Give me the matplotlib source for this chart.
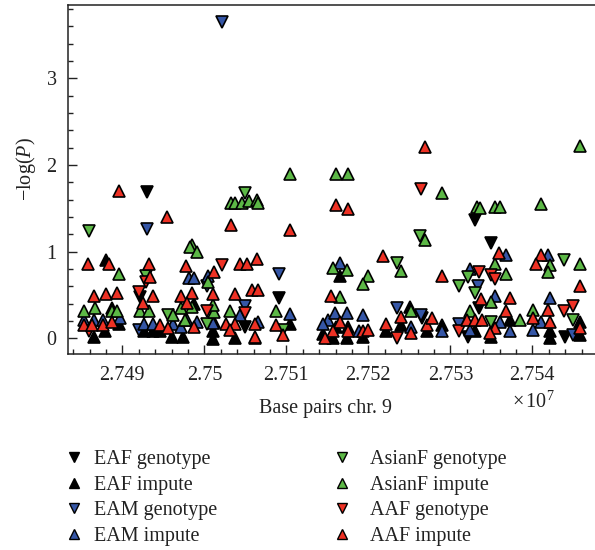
import numpy as np
import matplotlib
matplotlib.use('Agg')
import matplotlib.pyplot as plt
from matplotlib.lines import Line2D
from matplotlib.ticker import MultipleLocator

plt.rcParams['font.family'] = 'Liberation Serif'
plt.rcParams['mathtext.fontset'] = 'custom'
plt.rcParams['mathtext.rm'] = 'Liberation Serif'
plt.rcParams['mathtext.it'] = 'Liberation Serif:italic'

# positions in units of 1e7 bp, values are -log(P)
eaf_geno_x = [2.74930, 2.75091, 2.75330, 2.75350, 2.74922, 2.75050, 2.75265, 2.75335, 2.75322, 2.75440]
eaf_geno_y = [1.69, 0.47, 1.37, 1.10, 0.48, 0.13, 0.24, 0.35, 0.02, 0.02]

eaf_imp_x = [2.74880, 2.74866, 2.74879, 2.74896, 2.74960, 2.74974, 2.75011, 2.75011, 2.74926, 2.74938,
             2.74946, 2.75105, 2.75037, 2.75062, 2.75012, 2.75165, 2.75157, 2.75174, 2.75193, 2.75222,
             2.75240, 2.75251, 2.75271, 2.75290, 2.75330, 2.75373, 2.75421, 2.75421, 2.75458, 2.75458,
             2.75350, 2.74987, 2.74887, 2.75145, 2.75160, 2.75175]
eaf_imp_y = [0.90, 0.02, 0.08, 0.17, 0.02, 0.02, -0.01, 0.08, 0.08, 0.08,
             0.08, 0.17, 0.00, 0.00, 0.19, 0.72, 0.00, 0.00, 0.02, 0.08,
             0.15, 0.36, 0.08, 0.15, 0.08, 0.21, 0.08, 0.01, 0.19, 0.04,
             0.02, 0.40, 0.35, 0.05, 0.13, 0.13]

eam_geno_x = [2.75022, 2.74930, 2.75003, 2.74920, 2.75091, 2.75050, 2.75334, 2.75235, 2.75264, 2.75310, 2.75450]
eam_geno_y = [3.65, 1.26, 0.60, 0.10, 0.74, 0.37, 0.60, 0.35, 0.27, 0.165, 0.04]

eam_imp_x = [2.74981, 2.74987, 2.75005, 2.74853, 2.74865, 2.74877, 2.74897, 2.74926, 2.74938, 2.74962,
             2.74972, 2.74979, 2.74991, 2.75011, 2.75105, 2.75044, 2.75066, 2.75165, 2.75151, 2.75159,
             2.75174, 2.75145, 2.75189, 2.75193, 2.75252, 2.75290, 2.75324, 2.75324, 2.75368, 2.75419,
             2.75355, 2.75421, 2.75410, 2.75401, 2.75373, 2.75361]
eam_imp_y = [0.70, 0.70, 0.72, 0.21, 0.21, 0.21, 0.23, 0.165, 0.165, 0.17,
             0.13, 0.21, 0.19, 0.18, 0.28, 0.27, 0.19, 0.87, 0.21, 0.29,
             0.29, 0.17, 0.08, 0.27, 0.13, 0.08, 0.80, 0.10, 0.96, 0.96,
             0.49, 0.47, 0.19, 0.10, 0.08, 0.19]

asian_geno_x = [2.74859, 2.75050, 2.74929, 2.75003, 2.75096, 2.75263, 2.75235, 2.75310, 2.75322, 2.75330,
                2.75439, 2.75450, 2.75350, 2.74956]
asian_geno_y = [1.24, 1.68, 0.72, 0.17, 0.10, 1.18, 0.87, 0.60, 0.71, 0.52,
                0.90, 0.21, 0.19, 0.27]

asian_imp_x = [2.74985, 2.74983, 2.74991, 2.74896, 2.75005, 2.74853, 2.74867, 2.74887, 2.74894, 2.74922,
               2.74933, 2.74972, 2.74985, 2.75012, 2.74962, 2.75105, 2.75160, 2.75175, 2.75033, 2.75037,
               2.75046, 2.75054, 2.75064, 2.75066, 2.75157, 2.75174, 2.75165, 2.75031, 2.75088, 2.75290,
               2.75333, 2.75269, 2.75240, 2.75199, 2.75193, 2.75252, 2.75324, 2.75458, 2.75336, 2.75354,
               2.75361, 2.75410, 2.75355, 2.75368, 2.75421, 2.75419, 2.75458, 2.75350, 2.75385, 2.75401,
               2.74977, 2.75011]
asian_imp_y = [1.08, 1.05, 1.00, 0.74, 0.65, 0.31, 0.35, 0.31, 0.31, 0.31,
               0.31, 0.35, 0.36, 0.30, 0.27, 1.895, 1.895, 1.895, 1.56, 1.56,
               1.56, 1.58, 1.60, 1.56, 0.81, 0.79, 0.48, 0.32, 0.32, 1.68,
               1.51, 1.13, 0.78, 0.72, 0.63, 0.31, 0.31, 2.22, 1.50, 1.52,
               1.52, 1.55, 0.86, 0.74, 0.85, 0.76, 0.86, 0.42, 0.21, 0.33,
               0.21, 0.38]

aaf_geno_x = [2.74929, 2.74920, 2.75003, 2.74859, 2.75022, 2.75050, 2.75264, 2.75335, 2.75350, 2.75354,
              2.75235, 2.75310, 2.75439, 2.75450]
aaf_geno_y = [0.65, 0.54, 0.31, 0.08, 0.85, 0.29, 1.72, 0.76, 0.73, 0.69,
              0.00, 0.08, 0.32, 0.37]

aaf_imp_x = [2.74896, 2.74955, 2.74858, 2.74884, 2.74933, 2.74978, 2.74934, 2.75012, 2.74866, 2.74880,
             2.74894, 2.74938, 2.74925, 2.74971, 2.74985, 2.74979, 2.75011, 2.74853, 2.74863, 2.74877,
             2.74887, 2.74946, 2.74956, 2.74987, 2.75160, 2.75175, 2.75033, 2.75105, 2.75044, 2.75052,
             2.75064, 2.75037, 2.75058, 2.75066, 2.75155, 2.75027, 2.75037, 2.75062, 2.75088, 2.75031,
             2.75062, 2.75096, 2.75165, 2.75157, 2.75175, 2.75147, 2.75269, 2.75218, 2.75290, 2.75337,
             2.75193, 2.75199, 2.75222, 2.75240, 2.75252, 2.75272, 2.75278, 2.75320, 2.75330, 2.75338,
             2.75359, 2.75410, 2.75405, 2.75458, 2.75373, 2.75368, 2.75419, 2.75401, 2.75421, 2.75458,
             2.75355, 2.75348]
aaf_imp_y = [1.70, 1.40, 0.86, 0.86, 0.86, 0.83, 0.71, 0.77, 0.49, 0.51,
             0.52, 0.49, 0.41, 0.49, 0.52, 0.41, 0.51, 0.15, 0.15, 0.15,
             0.19, 0.15, 0.12, 0.13, 1.54, 1.49, 1.31, 1.25, 0.86, 0.86,
             0.91, 0.51, 0.56, 0.56, 0.49, 0.17, 0.165, 0.17, 0.15, 0.10,
             0.02, 0.04, 0.19, 0.08, 0.08, 0.00, 2.21, 0.95, 0.72, 0.45,
             0.08, 0.10, 0.17, 0.25, 0.06, 0.15, 0.23, 0.21, 0.21, 0.21,
             0.98, 0.96, 0.86, 0.60, 0.46, 0.31, 0.33, 0.23, 0.19, 0.12,
             0.12, 0.06]

black = '#000000'
blue = '#3556a6'
green = '#5cb846'
red = '#ee3124'

series = [
    (eaf_geno_x, eaf_geno_y, 'v', black, 'EAF genotype'),
    (eaf_imp_x, eaf_imp_y, '^', black, 'EAF impute'),
    (eam_geno_x, eam_geno_y, 'v', blue, 'EAM genotype'),
    (eam_imp_x, eam_imp_y, '^', blue, 'EAM impute'),
    (asian_geno_x, asian_geno_y, 'v', green, 'AsianF genotype'),
    (asian_imp_x, asian_imp_y, '^', green, 'AsianF impute'),
    (aaf_geno_x, aaf_geno_y, 'v', red, 'AAF genotype'),
    (aaf_imp_x, aaf_imp_y, '^', red, 'AAF impute'),
]

fig = plt.figure(figsize=(5.95, 5.5), dpi=100)
ax = fig.add_axes([0.1138, 0.3564, 0.8862, 0.6345])

for x, y, m, c, lab in series:
    ax.plot(x, y, linestyle='none', marker=m, markersize=9, markerfacecolor=c,
            markeredgecolor='black', markeredgewidth=1.2, label=lab)

ax.set_xlim(2.748334, 2.754764)
ax.set_ylim(-0.18, 3.845)
ax.xaxis.set_major_locator(MultipleLocator(0.001))
ax.xaxis.set_minor_locator(MultipleLocator(0.0002))
ax.yaxis.set_major_locator(MultipleLocator(1))
ax.yaxis.set_minor_locator(MultipleLocator(0.2))
ax.set_xticks([2.749, 2.750, 2.751, 2.752, 2.753, 2.754])
ax.set_xticklabels(['2.749', '2.75', '2.751', '2.752', '2.753', '2.754'])
ax.set_yticks([0, 1, 2, 3])
ax.set_yticklabels(['0', '1', '2', '3'])

ax.tick_params(axis='both', which='major', direction='in', length=6.5, width=1,
               labelsize=14.5, colors='#222222', labelcolor='#222222')
ax.tick_params(axis='both', which='minor', direction='in', length=3.5, width=1, colors='#222222')
ax.tick_params(axis='x', which='both', top=False, pad=9)
ax.tick_params(axis='y', which='both', right=False, pad=8)

ax.spines['right'].set_visible(False)
for s in ['left', 'bottom', 'top']:
    ax.spines[s].set_linewidth(1.1)
    ax.spines[s].set_color('#222222')

ax.set_xlabel('Base pairs chr. 9', fontsize=14.5, color='#222222')
ax.xaxis.set_label_coords(0.488, -0.128)
ax.set_ylabel(r'$-\mathrm{log}(P)$', fontsize=14.5, color='#222222', va='center')
ax.yaxis.set_label_coords(-0.079, 0.53)

fig.text(512 / 595, 1 - 402 / 550, r'$\times\,10^{7}$', fontsize=14.5, color='#222222',
         ha='left', va='center')

handles = [Line2D([], [], linestyle='none', marker=m, markersize=7.5, markerfacecolor=c,
                  markeredgecolor='black', markeredgewidth=1.0, label=lab)
           for _, _, m, c, lab in series]

leg1 = fig.legend(handles=handles[:4], loc='upper left', bbox_to_anchor=(0.1076, 0.182),
                  frameon=False, fontsize=14.5, handlelength=1.0, handletextpad=0.5,
                  labelspacing=0.33, borderpad=0, borderaxespad=0)
leg2 = fig.legend(handles=handles[4:], loc='upper left', bbox_to_anchor=(0.5575, 0.182),
                  frameon=False, fontsize=14.5, handlelength=1.0, handletextpad=0.9,
                  labelspacing=0.33, borderpad=0, borderaxespad=0)
for leg in (leg1, leg2):
    for t in leg.get_texts():
        t.set_color('#222222')

fig.savefig('out.png', dpi=100)
